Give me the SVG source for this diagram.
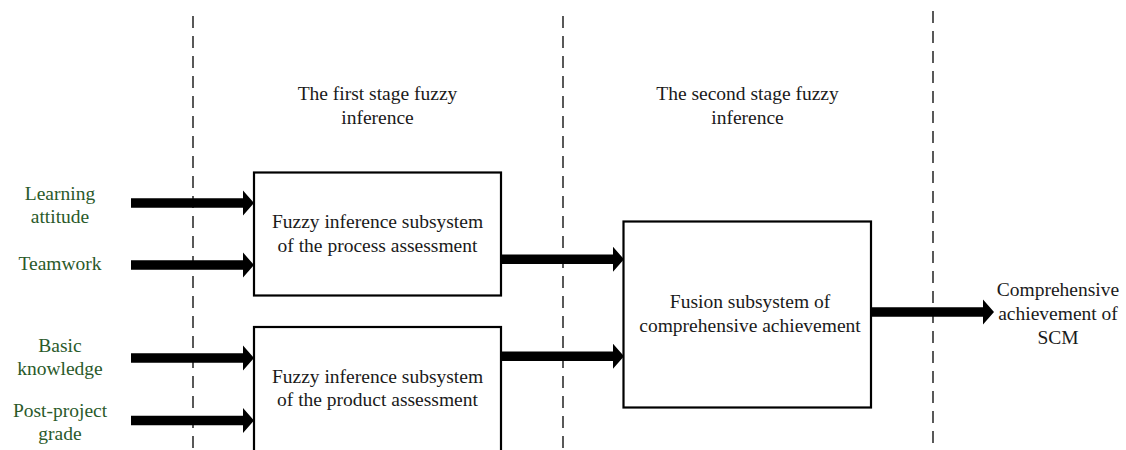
<svg xmlns="http://www.w3.org/2000/svg" width="1126" height="450" viewBox="0 0 1126 450">
<style>
text{font-family:"Liberation Serif","Times New Roman",serif;font-size:19.5px;fill:#1a1a1a;text-anchor:middle}
.in{fill:#2a5a2a}
.box{fill:#fff;stroke:#000;stroke-width:2.2}
.dash{stroke:#000;stroke-width:1.3;stroke-dasharray:12 8;fill:none}
.arr{fill:#000;stroke:none}
</style>
<defs>
<path id="arrow" d="M-123,-4.7 H-11 V-12.5 L0,0 L-11,12.5 V4.7 H-123 Z" fill="#000"/>
</defs>
<g id="dividers">
<line class="dash" x1="193" y1="16" x2="193" y2="450"/>
<line class="dash" x1="563" y1="16" x2="563" y2="450"/>
<line class="dash" x1="933" y1="11" x2="933" y2="450"/>
</g>
<g id="stage1">
<text x="377.5" y="100">The first stage fuzzy</text>
<text x="377.5" y="124">inference</text>
</g>
<g id="stage2">
<text x="747.5" y="100">The second stage fuzzy</text>
<text x="747.5" y="124">inference</text>
</g>
<g id="in-learning">
<text class="in" x="60" y="200">Learning</text>
<text class="in" x="60" y="223">attitude</text>
</g>
<g id="in-teamwork">
<text class="in" x="60" y="270">Teamwork</text>
</g>
<g id="in-basic">
<text class="in" x="60" y="352">Basic</text>
<text class="in" x="60" y="375">knowledge</text>
</g>
<g id="in-post">
<text class="in" x="60" y="417">Post-project</text>
<text class="in" x="60" y="440">grade</text>
</g>
<g id="process">
<rect class="box" x="254" y="172.5" width="247" height="123"/>
<text x="377.5" y="228">Fuzzy inference subsystem</text>
<text x="377.5" y="252">of the process assessment</text>
</g>
<g id="product">
<rect class="box" x="254" y="327" width="247" height="140"/>
<text x="377.5" y="383">Fuzzy inference subsystem</text>
<text x="377.5" y="406">of the product assessment</text>
</g>
<g id="fusion">
<rect class="box" x="623.5" y="221.5" width="247.5" height="186"/>
<text x="750" y="308">Fusion subsystem of</text>
<text x="750" y="332">comprehensive achievement</text>
</g>
<g id="output">
<text x="1058" y="296">Comprehensive</text>
<text x="1058" y="320">achievement of</text>
<text x="1058" y="344">SCM</text>
</g>
<g id="connectors" class="arr">
<use href="#arrow" x="254" y="203"/>
<use href="#arrow" x="254" y="265"/>
<use href="#arrow" x="254" y="358"/>
<use href="#arrow" x="254" y="420.5"/>
<use href="#arrow" x="624" y="259.3"/>
<use href="#arrow" x="624" y="356.3"/>
<use href="#arrow" x="994" y="312"/>
</g>
</svg>
